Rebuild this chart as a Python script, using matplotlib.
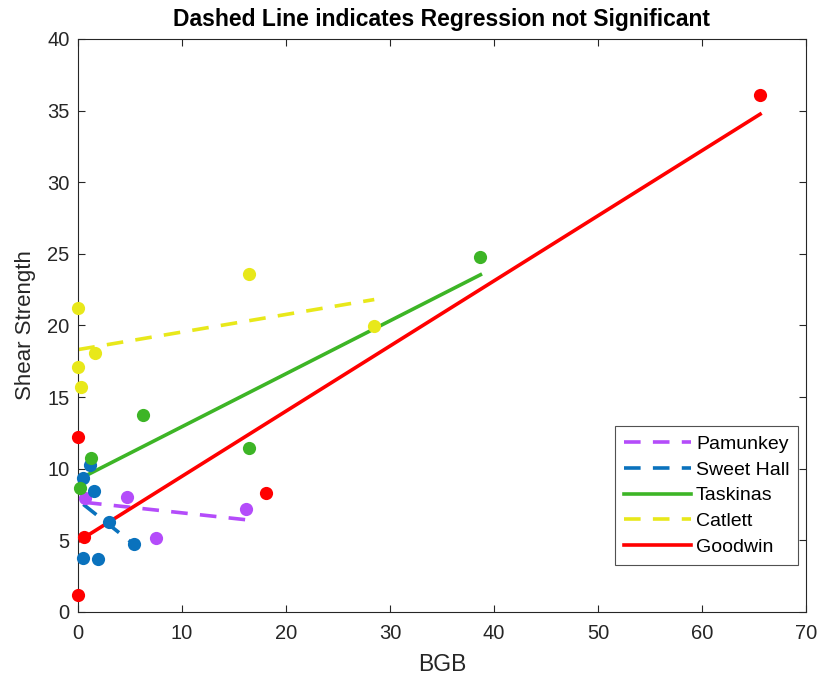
import matplotlib
matplotlib.use("Agg")
import matplotlib.pyplot as plt

plt.rcParams['font.family'] = ['Liberation Sans', 'DejaVu Sans']

# Data
names = ["Pamunkey", "Sweet Hall", "Taskinas", "Catlett", "Goodwin"]
colors = ["#B44CFA", "#0A72BD", "#3DB526", "#E8E81A", "#FF0000"]
styles = ["--", "--", "-", "--", "-"]

pam_x = [0.67, 4.68, 7.50, 16.14]
pam_y = [7.94, 8.05, 5.14, 7.17]
swh_x = [1.15, 0.51, 1.54, 2.98, 5.39, 0.51, 1.96]
swh_y = [10.26, 9.33, 8.47, 6.30, 4.75, 3.75, 3.68]
tas_x = [0.19, 1.22, 6.22, 16.49, 38.70]
tas_y = [8.63, 10.73, 13.77, 11.47, 24.80]
cat_x = [0.03, 0.03, 0.29, 1.64, 16.43, 28.49]
cat_y = [21.20, 17.12, 15.69, 18.06, 23.60, 19.97]
goo_x = [0.03, 0.58, 0.03, 18.10, 65.60]
goo_y = [12.24, 5.26, 1.19, 8.28, 36.10]

# Regression line endpoints
fit_x0 = [0.67, 0.51, 0.19, 0.03, 0.03]
fit_y0 = [7.65, 7.51, 9.31, 18.32, 4.94]
fit_x1 = [16.14, 5.39, 38.70, 28.49, 65.60]
fit_y1 = [6.44, 4.71, 23.54, 21.81, 34.75]

xs = [pam_x, swh_x, tas_x, cat_x, goo_x]
ys = [pam_y, swh_y, tas_y, cat_y, goo_y]

fig = plt.figure(figsize=(8.24, 6.86), dpi=100)
ax = fig.add_axes([0.0947, 0.1079, 0.8833, 0.8353])

handles = []
for i in range(5):
    ax.plot(xs[i], ys[i], 'o', color=colors[i], markersize=9.5, markeredgewidth=0,
            zorder=3, clip_on=False)
for i in range(5):
    h, = ax.plot([fit_x0[i], fit_x1[i]], [fit_y0[i], fit_y1[i]], styles[i],
                 color=colors[i], linewidth=2.6,
                 dashes=(4.6, 3.4) if styles[i] == "--" else (None, None),
                 zorder=2, label=names[i])
    handles.append(h)

ax.set_xlim(0, 70)
ax.set_ylim(0, 40)
ax.set_xticks(range(0, 71, 10))
ax.set_yticks(range(0, 41, 5))
ax.tick_params(direction='in', top=True, right=True, labelsize=14.5, colors='#262626',
               length=5, width=0.8)
ax.tick_params(axis='x', pad=9)
ax.tick_params(axis='y', pad=6)
for s in ax.spines.values():
    s.set_color('#262626')
    s.set_linewidth(0.8)

ax.set_xlabel("BGB", fontsize=16.5, color='#262626', labelpad=7)
ax.set_ylabel("Shear Strength", fontsize=16, color='#262626', labelpad=8)
ax.set_title("Dashed Line indicates Regression not Significant", fontsize=16.5,
             fontweight='bold', color='black', pad=9)

leg = ax.legend(handles=handles, loc='lower right', bbox_to_anchor=(0.9895, 0.0825),
                fontsize=14, frameon=True, fancybox=False, edgecolor='#262626',
                handlelength=3.45, borderpad=0.45, labelspacing=0.42, handletextpad=0.25,
                borderaxespad=0)
leg.get_frame().set_linewidth(0.8)

fig.savefig("out.png", dpi=100)
